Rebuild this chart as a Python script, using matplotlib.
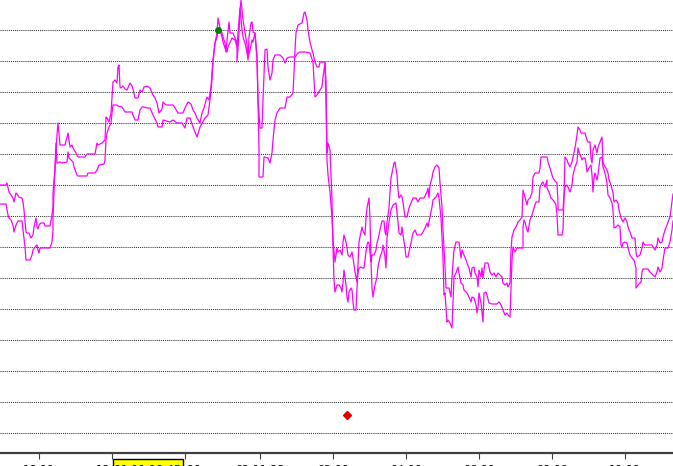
import numpy as np
import matplotlib
matplotlib.use("Agg")
import matplotlib.pyplot as plt
from matplotlib.patches import Rectangle

# two price lines, x = bar number, y = level in points (grid every 31)
line1_x = [0, 6, 7, 9, 11, 13, 14, 16, 17, 19, 22, 23, 24, 26, 27, 29, 31, 33, 34, 36,
           37, 38, 39, 41, 44, 45, 50, 52, 53, 53, 54, 55, 57, 58, 60, 65, 67, 68, 69, 70,
           72, 73, 76, 78, 85, 87, 95, 97, 98, 102, 105, 106, 107, 109, 111, 112, 113, 115, 117, 118,
           119, 120, 121, 123, 125, 127, 130, 132, 133, 135, 138, 140, 142, 144, 147, 150, 153, 155, 157, 159,
           162, 163, 166, 173, 175, 178, 183, 185, 188, 191, 193, 195, 197, 200, 202, 204, 207, 209, 211, 212,
           213, 215, 217, 218, 220, 222, 223, 225, 226, 227, 229, 230, 233, 235, 237, 237, 239, 240, 241, 242,
           243, 245, 247, 248, 249, 251, 252, 253, 255, 257, 258, 259, 259, 263, 264, 268, 270, 272, 273, 275,
           277, 280, 285, 287, 290, 293, 294, 295, 296, 298, 302, 304, 305, 307, 308, 310, 312, 313, 315, 317,
           319, 320, 325, 326, 327, 328, 330, 331, 332, 333, 334, 335, 337, 339, 341, 342, 343, 344, 346, 347,
           348, 349, 351, 352, 353, 354, 356, 357, 358, 359, 361, 362, 364, 366, 367, 368, 369, 371, 372, 373,
           375, 377, 378, 380, 382, 383, 385, 386, 387, 389, 391, 393, 396, 398, 399, 401, 402, 403, 405, 406,
           408, 409, 411, 413, 415, 417, 421, 423, 425, 427, 428, 430, 432, 433, 436, 438, 439, 441, 442, 443,
           444, 445, 447, 448, 450, 452, 453, 454, 456, 457, 458, 459, 461, 463, 464, 466, 467, 469, 471, 472,
           474, 476, 477, 478, 479, 481, 482, 483, 484, 486, 487, 489, 492, 497, 499, 501, 503, 505, 507, 508,
           510, 511, 512, 513, 515, 517, 523, 523, 524, 525, 527, 528, 530, 532, 534, 536, 539, 540, 542, 543,
           545, 547, 547, 549, 551, 553, 555, 556, 557, 558, 562, 563, 564, 565, 567, 568, 570, 572, 573, 575,
           577, 578, 579, 581, 582, 583, 585, 586, 587, 589, 591, 592, 593, 594, 595, 597, 598, 600, 602, 603,
           605, 607, 608, 610, 612, 613, 614, 616, 618, 620, 621, 622, 623, 625, 627, 628, 630, 632, 634, 636,
           636, 638, 641, 642, 643, 648, 650, 653, 655, 657, 658, 660, 662, 663, 665, 668, 670, 672, 673]
line1_y = [248, 248, 250, 241, 238, 235, 231, 240, 239, 236, 235, 231, 223, 201, 200, 200, 195, 198, 206, 215,
           206, 204, 208, 210, 210, 207, 207, 218, 226, 240, 253, 263, 298, 310, 288, 288, 296, 300, 293, 286,
           288, 285, 280, 276, 276, 279, 279, 290, 288, 290, 293, 316, 315, 311, 320, 336, 351, 353, 350, 366,
           368, 346, 345, 347, 344, 343, 350, 347, 344, 335, 335, 343, 341, 346, 347, 345, 338, 335, 330, 320,
           324, 331, 328, 328, 325, 320, 320, 325, 331, 329, 323, 320, 315, 310, 320, 325, 336, 333, 346, 361,
           371, 390, 400, 415, 405, 400, 396, 390, 381, 393, 411, 400, 400, 395, 391, 371, 400, 423, 433, 423,
           413, 401, 388, 373, 396, 410, 411, 401, 400, 375, 333, 283, 256, 256, 276, 275, 270, 280, 293, 313,
           320, 325, 325, 336, 336, 340, 360, 383, 400, 408, 410, 420, 421, 413, 403, 391, 383, 380, 371, 366,
           366, 371, 371, 351, 280, 290, 283, 258, 233, 186, 153, 141, 148, 148, 145, 141, 151, 163, 148, 136,
           131, 141, 145, 143, 131, 123, 123, 145, 161, 165, 166, 165, 165, 181, 188, 191, 190, 171, 145, 136,
           148, 156, 166, 176, 181, 188, 176, 165, 195, 211, 223, 228, 230, 211, 200, 198, 206, 198, 185, 176,
           176, 181, 190, 200, 203, 198, 198, 201, 205, 210, 206, 216, 226, 233, 236, 240, 235, 215, 195, 175,
           138, 140, 111, 113, 110, 105, 130, 156, 160, 163, 166, 160, 150, 148, 143, 141, 140, 136, 131, 136,
           135, 128, 120, 126, 140, 130, 120, 111, 140, 141, 138, 130, 129, 129, 131, 128, 123, 118, 120, 118,
           116, 143, 173, 186, 181, 185, 185, 206, 213, 211, 203, 201, 213, 218, 225, 231, 231, 246, 250, 251,
           246, 253, 245, 241, 235, 233, 230, 228, 218, 198, 198, 203, 236, 246, 248, 246, 241, 248, 258, 266,
           271, 285, 281, 276, 273, 275, 275, 270, 261, 265, 268, 258, 241, 255, 260, 253, 258, 275, 276, 266,
           260, 250, 238, 235, 230, 223, 205, 206, 208, 206, 188, 186, 190, 191, 190, 185, 178, 175, 173, 165,
           145, 148, 151, 161, 164, 164, 161, 158, 156, 161, 166, 161, 165, 173, 185, 185, 191, 203, 212]

line2_x = [0, 6, 8, 9, 11, 13, 14, 16, 18, 22, 23, 25, 26, 30, 32, 33, 35, 37, 38, 39,
           40, 50, 52, 53, 53, 54, 55, 56, 57, 60, 62, 67, 68, 69, 71, 73, 74, 77, 78, 87,
           88, 95, 97, 99, 104, 105, 106, 107, 109, 111, 112, 113, 117, 118, 122, 125, 132, 133, 135, 138,
           140, 142, 144, 147, 150, 153, 157, 158, 162, 163, 170, 173, 177, 182, 185, 187, 190, 193, 197, 200,
           205, 208, 210, 212, 213, 215, 217, 218, 220, 222, 223, 225, 227, 228, 232, 235, 237, 238, 240, 242,
           243, 245, 247, 248, 250, 252, 253, 255, 257, 258, 260, 262, 263, 265, 267, 268, 270, 272, 273, 275,
           280, 283, 285, 287, 290, 295, 298, 300, 305, 310, 313, 315, 317, 320, 322, 323, 325, 326, 327, 328,
           330, 332, 333, 335, 337, 338, 340, 342, 343, 344, 346, 347, 348, 350, 352, 353, 355, 357, 358, 359,
           361, 362, 363, 365, 366, 367, 368, 369, 370, 371, 372, 374, 376, 377, 379, 381, 382, 384, 385, 386,
           387, 389, 390, 391, 393, 394, 395, 397, 398, 399, 401, 402, 403, 405, 407, 409, 411, 413, 416, 418,
           420, 424, 427, 428, 429, 430, 432, 433, 435, 437, 439, 440, 442, 443, 444, 445, 446, 447, 449, 451,
           452, 454, 456, 459, 460, 461, 462, 464, 466, 467, 469, 471, 472, 474, 475, 477, 478, 479, 481, 482,
           483, 485, 488, 490, 492, 494, 496, 498, 500, 502, 503, 505, 507, 508, 510, 511, 512, 514, 516, 518,
           520, 522, 523, 525, 527, 528, 530, 532, 533, 535, 539, 540, 541, 547, 548, 550, 552, 553, 555, 557,
           558, 558, 563, 564, 565, 567, 568, 570, 572, 573, 575, 577, 578, 580, 581, 585, 587, 588, 590, 591,
           592, 593, 595, 597, 598, 600, 602, 603, 604, 606, 608, 609, 611, 613, 614, 616, 618, 619, 621, 623,
           625, 627, 628, 630, 632, 635, 636, 637, 640, 642, 643, 645, 652, 653, 655, 657, 658, 660, 662, 663,
           665, 667, 668, 670, 672, 673]
line2_y = [229, 229, 218, 215, 213, 208, 201, 208, 212, 212, 203, 186, 173, 173, 178, 183, 186, 188, 183, 180,
           185, 185, 191, 203, 216, 240, 263, 290, 270, 271, 270, 271, 281, 275, 273, 271, 266, 258, 257, 257,
           260, 260, 263, 268, 269, 273, 293, 300, 306, 310, 320, 328, 328, 327, 326, 321, 321, 318, 313, 313,
           323, 326, 326, 325, 325, 318, 310, 306, 306, 313, 311, 313, 310, 310, 305, 315, 315, 306, 296, 306,
           315, 318, 333, 353, 373, 390, 396, 403, 403, 396, 391, 385, 381, 386, 395, 393, 386, 400, 425, 403,
           396, 390, 380, 375, 383, 393, 391, 400, 375, 333, 305, 305, 333, 383, 384, 366, 353, 360, 373, 378,
           378, 375, 370, 375, 376, 376, 380, 381, 381, 380, 371, 336, 338, 343, 346, 356, 370, 333, 273, 258,
           241, 215, 193, 171, 185, 181, 183, 178, 191, 198, 191, 185, 178, 176, 181, 175, 161, 151, 168, 191,
           201, 206, 202, 198, 215, 225, 230, 235, 215, 171, 178, 178, 183, 190, 198, 208, 212, 212, 201, 198,
           211, 225, 241, 255, 265, 270, 271, 258, 243, 235, 238, 236, 231, 216, 216, 225, 230, 235, 235, 231,
           235, 235, 241, 245, 235, 248, 255, 261, 266, 268, 265, 250, 226, 203, 185, 166, 145, 145, 145, 136,
           156, 183, 191, 191, 183, 175, 183, 178, 173, 170, 165, 156, 165, 166, 160, 156, 146, 163, 156, 165,
           155, 170, 170, 161, 158, 160, 156, 160, 158, 156, 150, 148, 150, 146, 150, 183, 196, 203, 206, 211,
           213, 216, 243, 236, 228, 233, 235, 240, 256, 260, 260, 265, 276, 276, 271, 265, 258, 255, 252, 250,
           230, 223, 223, 238, 276, 273, 270, 266, 271, 276, 285, 298, 306, 303, 300, 300, 293, 291, 291, 275,
           270, 283, 288, 280, 286, 291, 296, 271, 268, 265, 260, 253, 248, 240, 231, 233, 230, 223, 215, 211,
           215, 211, 206, 201, 195, 195, 181, 176, 178, 185, 191, 188, 188, 186, 183, 188, 195, 190, 191, 196,
           203, 208, 211, 216, 231, 239]

# markers
green_x = [218]
green_y = [403]
red_x = [347]
red_y = [18]

# grid levels and time axis
levels = [0, 31, 62, 93, 124, 155, 186, 217, 248, 279, 310, 341, 372, 403]
tick_pos = [39, 112, 185, 260, 333, 406, 479, 552, 625]
tick_labels = ["16:00", "18:00", "20:00", "02.11.23", "02:00", "04:00", "06:00", "08:00", "10:00"]
cursor_label = "01.11 19:45"

fig = plt.figure(figsize=(6.73, 4.66), dpi=100)
ax = fig.add_axes([0, 13 / 466, 1, 453 / 466])

ax.plot(line1_x, line1_y, color="#ff00ff", lw=0.9, zorder=3)
ax.plot(line2_x, line2_y, color="#ff00ff", lw=0.9, zorder=3)
ax.plot(green_x, green_y, "o", color="#008000", ms=4, zorder=4)
ax.plot(red_x, red_y, "D", color="#e00000", ms=4.5, zorder=4)

ax.set_xlim(0, 673)
ax.set_ylim(-20, 433)
ax.set_yticks(levels)
ax.yaxis.grid(True, color="#333333", linestyle=(0, (1, 1)), lw=0.75)
ax.tick_params(axis="y", left=False, labelleft=False)
ax.set_xticks(tick_pos)
ax.set_xticklabels(tick_labels, fontsize=8)
ax.tick_params(axis="x", direction="out", length=4, width=0.8, color="#404040", pad=4.6)

for s in ["top", "left", "right"]:
    ax.spines[s].set_visible(False)
ax.spines["bottom"].set_color("#404040")
ax.spines["bottom"].set_linewidth(1.6)

# yellow cursor time box at the bottom
fig.patches.append(Rectangle((113 / 673, -20 / 466), 70 / 673, 27 / 466,
                             transform=fig.transFigure, facecolor="#ffff00",
                             edgecolor="black", lw=1, zorder=5))
fig.text(148 / 673, 1.0 / 466, cursor_label, ha="center", va="top", fontsize=8, zorder=6)

fig.savefig("out.png", dpi=100)
